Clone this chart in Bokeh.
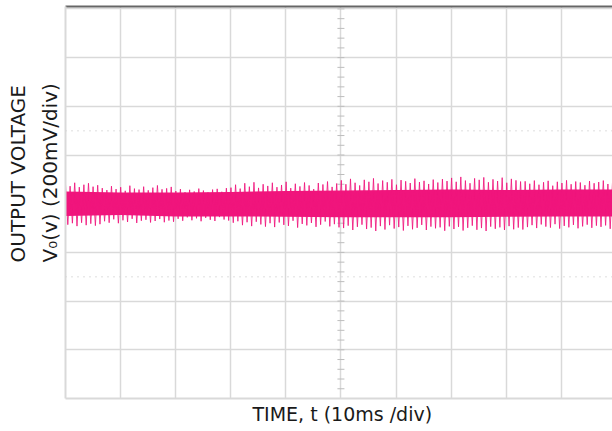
import numpy as np
from bokeh.plotting import figure
from bokeh.models import Range1d, LinearAxis, FixedTicker, Span, Title
from bokeh.embed import file_html
from bokeh.resources import INLINE

# ---- scope settings ----
time_per_div_ms = 10
volt_per_div_mv = 200
x_divs = 10
y_divs = 8

# ---- data (mV vs ms) ----
core_t = [0, 10, 20, 30, 40, 50, 60, 70, 80, 90, 100]
core_hi = [50, 46, 46, 48, 52, 54, 56, 58, 56, 58, 58]
core_lo = [-50, -46, -52, -52, -54, -56, -56, -56, -54, -52, -52]

spike_top = [80, 72, 86, 68, 78, 84, 70, 76,
             64, 56, 72, 60, 68, 53, 74, 62, 58, 70, 55, 66, 75, 59, 63, 69,
             52, 60, 47, 57, 50, 62, 54, 46, 58, 61, 49, 64,
             66, 78, 62, 84, 70, 88, 65, 80, 73, 86, 68, 77, 90, 64, 82, 71, 87, 75, 60, 85, 79, 91, 69, 83,
             96, 80, 102, 86, 75, 98, 90, 104, 83, 95, 88, 100, 78, 97, 92, 85, 103, 89, 94, 81, 99, 87, 101, 93,
             106, 90, 110, 95, 84, 104, 98, 108, 88, 100, 93, 107, 86, 102, 96, 91,
             92, 82, 95, 78, 88, 94, 74, 90, 85, 96, 80, 91, 87, 76, 93, 84, 89, 95, 81, 88]
spike_bot = [-86, -80, -92, -78, -88, -82, -90, -84,
             -72, -78, -64, -80, -68, -75, -62, -79, -70, -66, -77, -71, -63, -76, -69, -74,
             -62, -70, -56, -68, -60, -72, -58, -66, -71, -55, -65, -69,
             -78, -72, -88, -76, -92, -74, -85, -94, -80, -96, -77, -87, -91, -70, -98, -83, -89, -79, -95, -86, -73, -93, -84, -97,
             -100, -90, -108, -95, -86, -104, -98, -112, -92, -106, -88, -102, -96, -110, -91, -105, -99, -87, -108, -94, -101, -97, -111, -93,
             -104, -95, -110, -99, -90, -107, -100, -112, -94, -103, -97, -108, -92, -105, -98, -106,
             -96, -88, -100, -85, -94, -98, -84, -102, -91, -97, -87, -101, -93, -86, -99, -90, -95, -89, -103, -92]

x_label = "TIME, t (10ms /div)"
y_label_1 = "OUTPUT VOLTAGE"
y_label_2 = "V\u2080(v) (200mV/div)"

SIG = "#F0157C"
GRID = "#d9d9d9"
TXT = "#1a1a1a"

x_end = x_divs * time_per_div_ms
y_half = y_divs / 2 * volt_per_div_mv

p = figure(width=612, height=431, output_backend="svg", toolbar_location=None,
           x_range=Range1d(0, 99.3), y_range=Range1d(-y_half, y_half + 10),
           min_border_left=65, min_border_right=0, min_border_top=6, min_border_bottom=33,
           x_axis_location=None, y_axis_location=None)
p.outline_line_color = None
p.background_fill_color = "white"

# grid
xt = list(np.arange(0, x_end + 1, time_per_div_ms))
yt = list(np.arange(-y_half, y_half + 1, volt_per_div_mv))
p.xgrid.ticker = FixedTicker(ticks=xt)
p.ygrid.ticker = FixedTicker(ticks=yt)
for g in (p.xgrid, p.ygrid):
    g.grid_line_color = GRID
    g.grid_line_width = 1.5

# dotted reference lines
for yv in (-1.5 * volt_per_div_mv, 1.5 * volt_per_div_mv):
    p.add_layout(Span(location=yv, dimension="width", line_color="#d2d2d2",
                      line_width=1.5, line_dash="1 5"))

# centre-line tick marks (0.2 div)
cy = np.arange(-y_half, y_half + 1, volt_per_div_mv / 5)
p.scatter(x=[x_end / 2] * len(cy), y=cy, marker="dash", size=7,
          line_color="#bdbdbd", line_width=1)
cx = np.arange(0, x_end + 0.1, time_per_div_ms / 5)
p.scatter(x=cx, y=[0] * len(cx), marker="dash", angle=np.pi / 2, size=7,
          line_color="#bdbdbd", line_width=1)

# axes (frame lines)
left = LinearAxis(ticker=FixedTicker(ticks=[]))
left.axis_line_color = GRID
left.axis_line_width = 2
left.major_tick_line_color = None
left.minor_tick_line_color = None
left.major_label_text_font_size = "0px"
p.add_layout(left, "left")

bottom = LinearAxis(ticker=FixedTicker(ticks=[]))
bottom.axis_line_color = GRID
bottom.axis_line_width = 2
bottom.major_tick_line_color = None
bottom.minor_tick_line_color = None
bottom.major_label_text_font_size = "0px"
p.add_layout(bottom, "below")

top = LinearAxis(ticker=FixedTicker(ticks=[]))
top.axis_line_color = "#666666"
top.axis_line_width = 2
top.major_tick_line_color = None
top.minor_tick_line_color = None
top.major_label_text_font_size = "0px"
p.add_layout(top, "above")

# x label
p.add_layout(Title(text=x_label, align="left", offset=187, standoff=5,
                   text_font="DejaVu Sans", text_font_size="19px",
                   text_font_style="normal", text_color=TXT), "below")

# y label: two vertical lines, a little above the frame centre as in the original
for txt, so in ((y_label_2, 8), (y_label_1, 4)):
    p.add_layout(Title(text=txt, align="left", offset=136, standoff=so,
                       text_font="DejaVu Sans", text_font_size="20px",
                       text_font_style="normal", text_color=TXT), "left")

# signal: solid core band plus spiky ripple
p.varea(x=core_t, y1=core_lo, y2=core_hi, fill_color=SIG, fill_alpha=1.0)

st = np.linspace(0, 99.3, len(spike_top))
half = (st[1] - st[0]) / 2
zx = np.empty(2 * len(st))
zy = np.empty(2 * len(st))
zx[0::2] = st
zx[1::2] = st + half
zy[0::2] = spike_top
zy[1::2] = spike_bot
p.line(x=zx, y=zy, line_color=SIG, line_width=1.0, line_alpha=0.85)

open("out.html", "w").write(file_html(p, INLINE))
